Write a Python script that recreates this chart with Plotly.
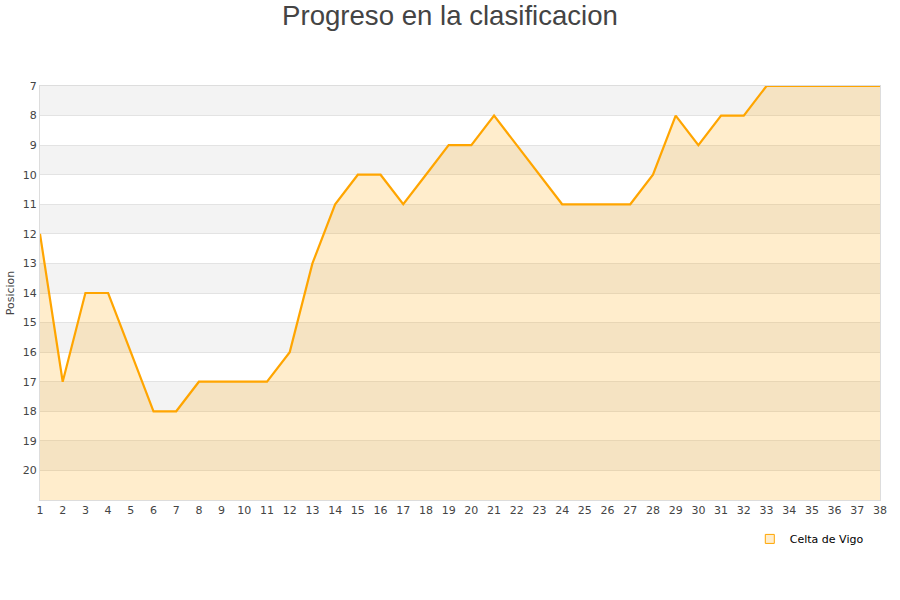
import plotly.graph_objects as go

jornadas = list(range(1, 39))
posiciones = [12, 17, 14, 14, 16, 18, 18, 17, 17, 17, 17, 16, 13, 11, 10, 10, 11, 10, 9, 9,
              8, 9, 10, 11, 11, 11, 11, 10, 8, 9, 8, 8, 7, 7, 7, 7, 7, 7]
equipo = "Celta de Vigo"
y_min, y_max = 7, 21
y_ticks = list(range(7, 21))

fig = go.Figure()

# baseline for fill at the bottom of the (reversed) axis
fig.add_trace(go.Scatter(x=jornadas, y=[y_max] * len(jornadas), mode="lines",
                         line=dict(width=0, color="rgba(0,0,0,0)"),
                         showlegend=False, hoverinfo="skip"))
fig.add_trace(go.Scatter(x=jornadas, y=posiciones, mode="lines", fill="tonexty",
                         fillcolor="rgba(255,165,0,0.2)",
                         line=dict(color="#FFA500", width=2.2),
                         name=equipo, showlegend=False))
# legend item
fig.add_trace(go.Scatter(x=[None], y=[None], mode="markers", name=equipo,
                         marker=dict(symbol="square", size=9, color="rgba(255,165,0,0.2)",
                                     line=dict(color="#FFA500", width=1))))

shapes = []
for i, v in enumerate(range(y_min, y_max)):
    if i % 2 == 0:
        shapes.append(dict(type="rect", xref="paper", yref="y", x0=0, x1=1, y0=v, y1=v + 1,
                           fillcolor="#f3f3f3", line=dict(width=0), layer="below"))

fig.update_layout(
    width=900, height=600,
    margin=dict(l=40, r=20, t=86, b=100, autoexpand=False),
    paper_bgcolor="white", plot_bgcolor="white",
    title=dict(text="Progreso en la clasificacion", x=0.5, xanchor="center",
               y=0.975, yanchor="middle",
               font=dict(family="Liberation Sans, Arial", size=27.6, color="#444444")),
    shapes=shapes,
    font=dict(family="DejaVu Sans", size=11, color="#444444"),
    xaxis=dict(range=[1, 38], tickmode="array", tickvals=jornadas, ticktext=[str(j) for j in jornadas],
               showgrid=False, zeroline=False, showline=True, linecolor="#dddddd", mirror=True,
               ticks="", automargin=False, tickfont=dict(size=11, color="#444444")),
    yaxis=dict(range=[y_max, y_min], tickmode="array", tickvals=y_ticks,
               showgrid=True, gridcolor="#e3e3e3", zeroline=False, showline=True,
               linecolor="#dddddd", mirror=True, ticks="", automargin=False,
               tickfont=dict(size=11, color="#444444"),
               title=dict(text="Posicion", font=dict(size=11, color="#444444"), standoff=5)),
    legend=dict(orientation="h", x=0.845, xanchor="left", y=-0.094, yanchor="middle",
                font=dict(family="DejaVu Sans", size=11, color="#000000"), bgcolor="rgba(0,0,0,0)"),
)

fig.write_html("out.html", config={"displayModeBar": False},
               post_script="document.body.style.margin='0';")
